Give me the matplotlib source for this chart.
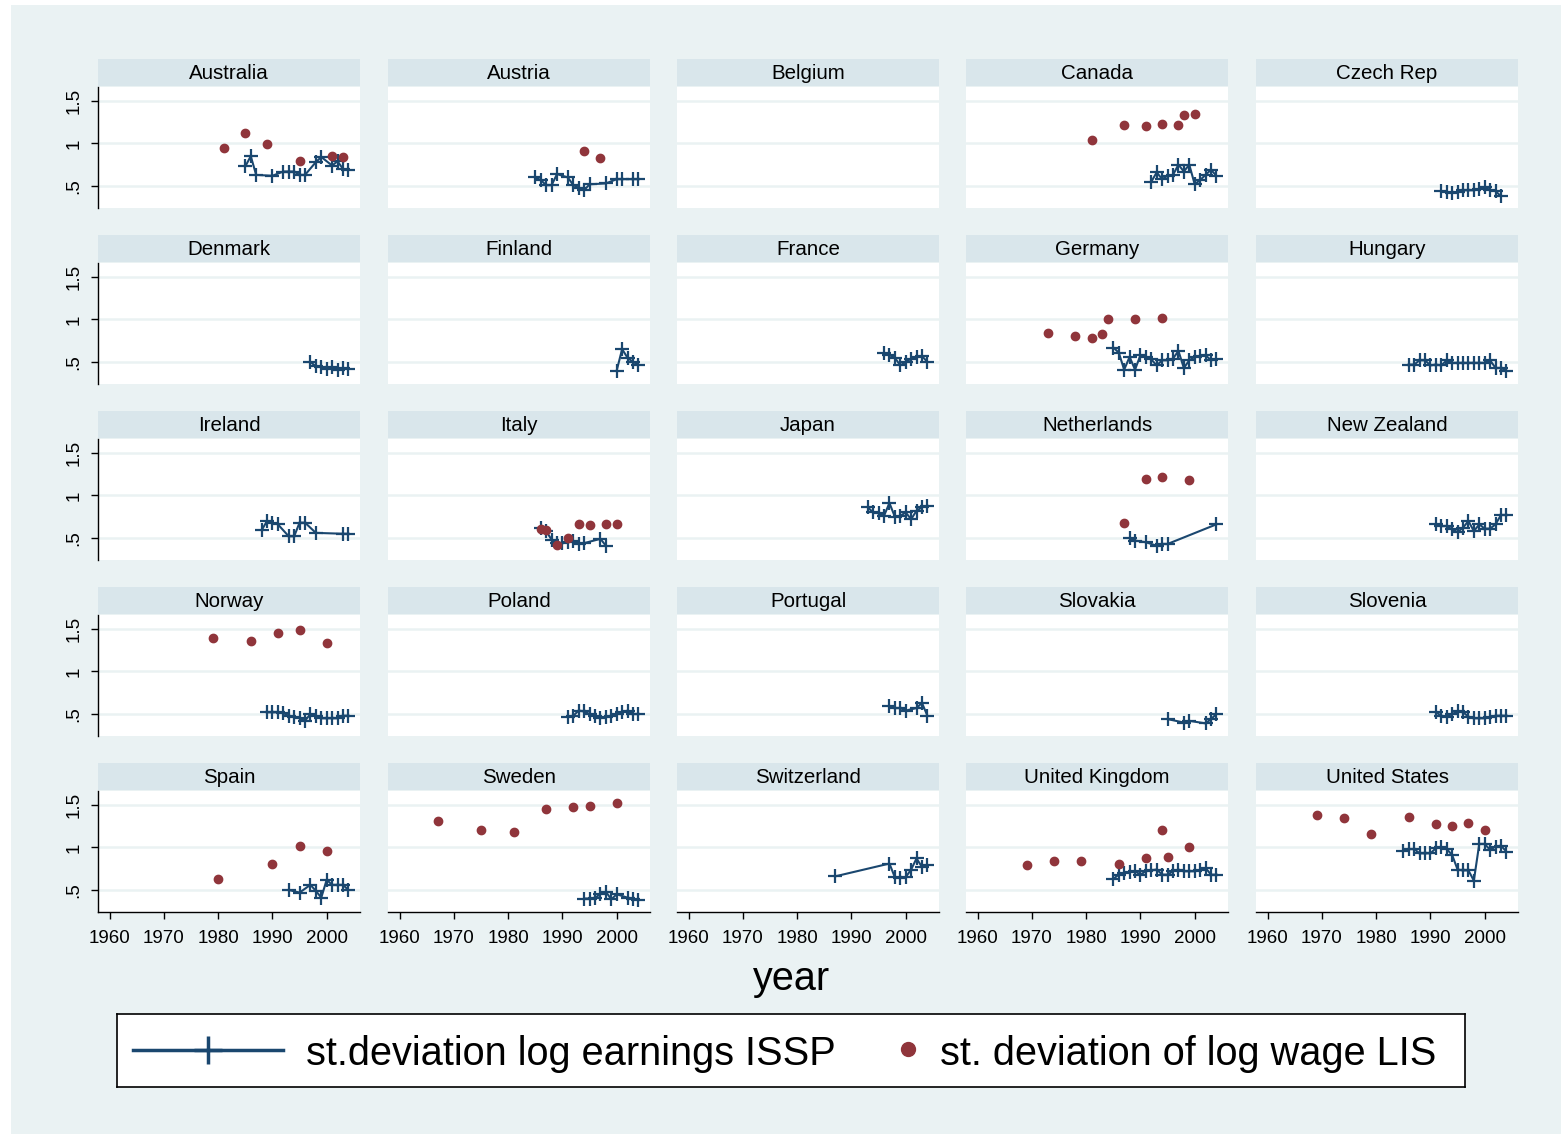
import matplotlib
matplotlib.use("Agg")
import matplotlib.pyplot as plt
from matplotlib.patches import Rectangle

plt.rcParams['font.family'] = ['Liberation Sans', 'DejaVu Sans']

# ---------------- data ----------------
COUNTRIES = ["Australia", "Austria", "Belgium", "Canada", "Czech Rep",
             "Denmark", "Finland", "France", "Germany", "Hungary",
             "Ireland", "Italy", "Japan", "Netherlands", "New Zealand",
             "Norway", "Poland", "Portugal", "Slovakia", "Slovenia",
             "Spain", "Sweden", "Switzerland", "United Kingdom", "United States"]

AUS_ISSP_YR = [1985, 1986, 1987, 1990, 1992, 1993, 1994, 1995, 1996, 1998, 1999, 2001, 2002, 2003, 2004]
AUS_ISSP = [0.73, 0.85, 0.63, 0.62, 0.67, 0.67, 0.67, 0.63, 0.63, 0.78, 0.84, 0.74, 0.79, 0.70, 0.69]
AUS_LIS_YR = [1981, 1985, 1989, 1995, 2001, 2003]
AUS_LIS = [0.94, 1.12, 0.99, 0.79, 0.85, 0.84]

AUT_ISSP_YR = [1985, 1986, 1987, 1988, 1989, 1991, 1992, 1993, 1994, 1995, 1998, 2000, 2001, 2003, 2004]
AUT_ISSP = [0.60, 0.57, 0.51, 0.51, 0.64, 0.60, 0.51, 0.48, 0.45, 0.52, 0.53, 0.58, 0.58, 0.58, 0.58]
AUT_LIS_YR = [1994, 1997]
AUT_LIS = [0.91, 0.83]

CAN_ISSP_YR = [1992, 1993, 1994, 1995, 1996, 1997, 1998, 1999, 2000, 2001, 2002, 2003, 2004]
CAN_ISSP = [0.55, 0.66, 0.58, 0.62, 0.63, 0.75, 0.67, 0.75, 0.52, 0.57, 0.63, 0.69, 0.62]
CAN_LIS_YR = [1981, 1987, 1991, 1994, 1997, 1998, 2000]
CAN_LIS = [1.04, 1.21, 1.20, 1.23, 1.22, 1.33, 1.34]

CZE_ISSP_YR = [1992, 1993, 1994, 1995, 1996, 1997, 1998, 1999, 2000, 2001, 2002, 2003]
CZE_ISSP = [0.44, 0.43, 0.42, 0.43, 0.45, 0.45, 0.45, 0.46, 0.49, 0.45, 0.44, 0.38]

DNK_ISSP_YR = [1997, 1998, 1999, 2000, 2001, 2002, 2003, 2004]
DNK_ISSP = [0.50, 0.45, 0.44, 0.42, 0.44, 0.41, 0.43, 0.42]

FIN_ISSP_YR = [2000, 2001, 2002, 2003, 2004]
FIN_ISSP = [0.40, 0.65, 0.55, 0.50, 0.47]

FRA_ISSP_YR = [1996, 1997, 1998, 1999, 2000, 2001, 2002, 2003, 2004]
FRA_ISSP = [0.60, 0.58, 0.55, 0.46, 0.50, 0.54, 0.56, 0.57, 0.50]

DEU_ISSP_YR = [1985, 1986, 1987, 1988, 1989, 1990, 1991, 1992, 1993, 1994, 1995, 1996, 1997,
               1998, 1999, 2000, 2001, 2002, 2003, 2004]
DEU_ISSP = [0.67, 0.61, 0.41, 0.56, 0.41, 0.58, 0.56, 0.53, 0.46, 0.52, 0.52, 0.54, 0.63,
            0.43, 0.52, 0.56, 0.57, 0.58, 0.52, 0.53]
DEU_LIS_YR = [1973, 1978, 1981, 1983, 1984, 1989, 1994]
DEU_LIS = [0.84, 0.80, 0.78, 0.83, 1.00, 1.00, 1.02]

HUN_ISSP_YR = [1986, 1987, 1988, 1989, 1990, 1991, 1992, 1993, 1994, 1995, 1996, 1997, 1998,
               1999, 2000, 2001, 2002, 2003, 2004]
HUN_ISSP = [0.47, 0.47, 0.52, 0.52, 0.46, 0.47, 0.46, 0.52, 0.49, 0.49, 0.49, 0.49, 0.49,
            0.49, 0.49, 0.52, 0.43, 0.43, 0.40]

IRL_ISSP_YR = [1988, 1989, 1990, 1991, 1993, 1994, 1995, 1996, 1998, 2003, 2004]
IRL_ISSP = [0.59, 0.70, 0.68, 0.66, 0.52, 0.52, 0.68, 0.68, 0.56, 0.55, 0.55]

ITA_ISSP_YR = [1986, 1987, 1988, 1989, 1990, 1991, 1992, 1993, 1994, 1997, 1998]
ITA_ISSP = [0.62, 0.58, 0.48, 0.44, 0.44, 0.45, 0.47, 0.43, 0.44, 0.49, 0.41]
ITA_LIS_YR = [1986, 1987, 1989, 1991, 1993, 1995, 1998, 2000]
ITA_LIS = [0.61, 0.59, 0.42, 0.50, 0.66, 0.65, 0.67, 0.66]

JPN_ISSP_YR = [1993, 1994, 1995, 1996, 1997, 1998, 1999, 2000, 2001, 2002, 2003, 2004]
JPN_ISSP = [0.86, 0.80, 0.79, 0.76, 0.91, 0.75, 0.76, 0.80, 0.72, 0.82, 0.86, 0.88]

NLD_ISSP_YR = [1988, 1989, 1991, 1993, 1994, 1995, 2004]
NLD_ISSP = [0.50, 0.47, 0.45, 0.41, 0.43, 0.43, 0.66]
NLD_LIS_YR = [1987, 1991, 1994, 1999]
NLD_LIS = [0.68, 1.19, 1.21, 1.18]

NZL_ISSP_YR = [1991, 1992, 1993, 1994, 1995, 1996, 1997, 1998, 1999, 2000, 2001, 2002, 2003, 2004]
NZL_ISSP = [0.66, 0.64, 0.64, 0.60, 0.57, 0.62, 0.70, 0.58, 0.66, 0.61, 0.61, 0.66, 0.77, 0.77]

NOR_ISSP_YR = [1989, 1990, 1991, 1992, 1993, 1994, 1995, 1996, 1997, 1998, 1999, 2000, 2001,
               2002, 2003, 2004]
NOR_ISSP = [0.52, 0.52, 0.52, 0.51, 0.48, 0.47, 0.45, 0.42, 0.50, 0.48, 0.45, 0.45, 0.45,
            0.45, 0.48, 0.48]
NOR_LIS_YR = [1979, 1986, 1991, 1995, 2000]
NOR_LIS = [1.39, 1.36, 1.45, 1.48, 1.33]

POL_ISSP_YR = [1991, 1992, 1993, 1994, 1995, 1996, 1997, 1998, 1999, 2000, 2001, 2002, 2003, 2004]
POL_ISSP = [0.47, 0.48, 0.54, 0.53, 0.50, 0.48, 0.45, 0.47, 0.48, 0.50, 0.52, 0.54, 0.50, 0.50]

PRT_ISSP_YR = [1997, 1998, 1999, 2000, 2002, 2003, 2004]
PRT_ISSP = [0.59, 0.57, 0.57, 0.54, 0.57, 0.63, 0.48]

SVK_ISSP_YR = [1995, 1998, 1999, 2002, 2003, 2004]
SVK_ISSP = [0.44, 0.40, 0.42, 0.39, 0.44, 0.50]

SVN_ISSP_YR = [1991, 1992, 1993, 1994, 1995, 1996, 1997, 1998, 1999, 2000, 2001, 2002, 2003, 2004]
SVN_ISSP = [0.52, 0.48, 0.47, 0.50, 0.53, 0.52, 0.47, 0.45, 0.45, 0.45, 0.46, 0.48, 0.48, 0.48]

ESP_ISSP_YR = [1993, 1995, 1997, 1998, 1999, 2000, 2001, 2002, 2003, 2004]
ESP_ISSP = [0.50, 0.47, 0.56, 0.49, 0.41, 0.62, 0.56, 0.56, 0.56, 0.50]
ESP_LIS_YR = [1980, 1990, 1995, 2000]
ESP_LIS = [0.63, 0.81, 1.02, 0.96]

SWE_ISSP_YR = [1994, 1995, 1996, 1997, 1998, 1999, 2000, 2002, 2003, 2004]
SWE_ISSP = [0.40, 0.40, 0.41, 0.45, 0.48, 0.39, 0.45, 0.41, 0.40, 0.38]
SWE_LIS_YR = [1967, 1975, 1981, 1987, 1992, 1995, 2000]
SWE_LIS = [1.31, 1.20, 1.18, 1.45, 1.47, 1.48, 1.52]

CHE_ISSP_YR = [1987, 1997, 1998, 1999, 2000, 2001, 2002, 2003, 2004]
CHE_ISSP = [0.66, 0.81, 0.65, 0.64, 0.65, 0.74, 0.87, 0.77, 0.79]

GBR_ISSP_YR = [1985, 1986, 1987, 1988, 1989, 1990, 1991, 1992, 1993, 1994, 1995, 1996, 1997,
               1998, 1999, 2000, 2001, 2002, 2003, 2004]
GBR_ISSP = [0.63, 0.68, 0.70, 0.71, 0.72, 0.68, 0.72, 0.73, 0.74, 0.68, 0.68, 0.72, 0.74,
            0.72, 0.72, 0.72, 0.73, 0.76, 0.68, 0.68]
GBR_LIS_YR = [1969, 1974, 1979, 1986, 1991, 1994, 1995, 1999]
GBR_LIS = [0.79, 0.84, 0.84, 0.80, 0.88, 1.20, 0.89, 1.01]

USA_ISSP_YR = [1985, 1986, 1987, 1988, 1989, 1990, 1991, 1992, 1993, 1994, 1995, 1996, 1997,
               1998, 1999, 2000, 2001, 2002, 2003, 2004]
USA_ISSP = [0.96, 0.98, 0.98, 0.93, 0.93, 0.93, 0.99, 1.00, 0.98, 0.91, 0.74, 0.73, 0.73,
            0.61, 1.04, 1.04, 0.97, 1.01, 1.02, 0.95]
USA_LIS_YR = [1969, 1974, 1979, 1986, 1991, 1994, 1997, 2000]
USA_LIS = [1.38, 1.34, 1.16, 1.36, 1.27, 1.25, 1.28, 1.20]

X_TICKS = [1960, 1970, 1980, 1990, 2000]
Y_TICKS = [0.5, 1, 1.5]
Y_TICK_LABELS = [".5", "1", "1.5"]
LABEL_ISSP = "st.deviation log earnings ISSP"
LABEL_LIS = "st. deviation of log wage LIS"
X_TITLE = "year"

ISSP = {
    "Australia": (AUS_ISSP_YR, AUS_ISSP), "Austria": (AUT_ISSP_YR, AUT_ISSP),
    "Canada": (CAN_ISSP_YR, CAN_ISSP), "Czech Rep": (CZE_ISSP_YR, CZE_ISSP),
    "Denmark": (DNK_ISSP_YR, DNK_ISSP), "Finland": (FIN_ISSP_YR, FIN_ISSP),
    "France": (FRA_ISSP_YR, FRA_ISSP), "Germany": (DEU_ISSP_YR, DEU_ISSP),
    "Hungary": (HUN_ISSP_YR, HUN_ISSP), "Ireland": (IRL_ISSP_YR, IRL_ISSP),
    "Italy": (ITA_ISSP_YR, ITA_ISSP), "Japan": (JPN_ISSP_YR, JPN_ISSP),
    "Netherlands": (NLD_ISSP_YR, NLD_ISSP), "New Zealand": (NZL_ISSP_YR, NZL_ISSP),
    "Norway": (NOR_ISSP_YR, NOR_ISSP), "Poland": (POL_ISSP_YR, POL_ISSP),
    "Portugal": (PRT_ISSP_YR, PRT_ISSP), "Slovakia": (SVK_ISSP_YR, SVK_ISSP),
    "Slovenia": (SVN_ISSP_YR, SVN_ISSP), "Spain": (ESP_ISSP_YR, ESP_ISSP),
    "Sweden": (SWE_ISSP_YR, SWE_ISSP), "Switzerland": (CHE_ISSP_YR, CHE_ISSP),
    "United Kingdom": (GBR_ISSP_YR, GBR_ISSP), "United States": (USA_ISSP_YR, USA_ISSP),
}
LIS = {
    "Australia": (AUS_LIS_YR, AUS_LIS), "Austria": (AUT_LIS_YR, AUT_LIS),
    "Canada": (CAN_LIS_YR, CAN_LIS), "Germany": (DEU_LIS_YR, DEU_LIS),
    "Italy": (ITA_LIS_YR, ITA_LIS), "Netherlands": (NLD_LIS_YR, NLD_LIS),
    "Norway": (NOR_LIS_YR, NOR_LIS), "Spain": (ESP_LIS_YR, ESP_LIS),
    "Sweden": (SWE_LIS_YR, SWE_LIS), "United Kingdom": (GBR_LIS_YR, GBR_LIS),
    "United States": (USA_LIS_YR, USA_LIS),
}

# ---------------- styling ----------------
NAVY = "#1a476f"
MAROON = "#90353b"
BG = "#eaf2f3"
STRIP = "#d9e6eb"
GRID = "#eaf2f3"

W, H = 1561, 1134
fig = plt.figure(figsize=(W / 100, H / 100), dpi=100, facecolor="white")
fig.patches.append(Rectangle((11 / W, 0), 1 - 11 / W, 1 - 5 / H, transform=fig.transFigure,
                             facecolor=BG, edgecolor="none", zorder=-10))

col_left = [98, 388, 677, 966, 1256]
pw, ph = 262, 121
row_top0, row_step = 87, 176

for i, c in enumerate(COUNTRIES):
    r, k = divmod(i, 5)
    L = col_left[k]
    top = row_top0 + row_step * r
    ax = fig.add_axes([L / W, 1 - (top + ph) / H, pw / W, ph / H])
    ax.set_facecolor("white")
    ax.set_xlim(1957.84, 2006.14)
    ax.set_ylim(0.242, 1.661)
    for s in ax.spines.values():
        s.set_visible(False)
    ax.set_yticks(Y_TICKS)
    ax.grid(axis="y", color=GRID, linewidth=1.8, zorder=0)
    ax.set_axisbelow(True)

    if k == 0:
        ax.spines["left"].set_visible(True)
        ax.spines["left"].set_color("black")
        ax.spines["left"].set_linewidth(1.0)
        ax.set_yticklabels(Y_TICK_LABELS)
        ax.tick_params(axis="y", length=5, width=1, direction="out", labelsize=13.5, pad=6)
        for t in ax.get_yticklabels():
            t.set_rotation(90)
            t.set_va("center")
    else:
        ax.set_yticklabels([])
        ax.tick_params(axis="y", length=0)

    if r == 4:
        ax.spines["bottom"].set_visible(True)
        ax.spines["bottom"].set_color("black")
        ax.spines["bottom"].set_linewidth(1.0)
        ax.set_xticks(X_TICKS)
        ax.tick_params(axis="x", length=5, width=1, direction="out", labelsize=13.5, pad=8)
    else:
        ax.set_xticks([])

    if c in ISSP:
        yrs, vals = ISSP[c]
        ax.plot(yrs, vals, color=NAVY, lw=1.5, marker="+", ms=10, mew=1.6, zorder=3,
                clip_on=False)
    if c in LIS:
        yrs, vals = LIS[c]
        ax.plot(yrs, vals, linestyle="none", marker="o", color=MAROON, ms=6, zorder=4,
                clip_on=False)

    # strip header
    sax = fig.add_axes([L / W, 1 - (top - 1) / H, pw / W, 27 / H])
    sax.set_facecolor(STRIP)
    sax.set_xticks([])
    sax.set_yticks([])
    for s in sax.spines.values():
        s.set_visible(False)
    sax.text(0.5, 0.45, c, ha="center", va="center", fontsize=14.8, transform=sax.transAxes)

fig.text(792 / W, 1 - 979 / H, X_TITLE, ha="center", va="center", fontsize=28.5)

# legend box
lx0, lx1, ly0, ly1 = 117, 1465, 1014, 1087
lax = fig.add_axes([lx0 / W, 1 - ly1 / H, (lx1 - lx0) / W, (ly1 - ly0) / H])
lax.set_xlim(lx0, lx1)
lax.set_ylim(ly1, ly0)
lax.set_facecolor("white")
lax.set_xticks([])
lax.set_yticks([])
for s in lax.spines.values():
    s.set_color("black")
    s.set_linewidth(1.2)
lax.plot([133, 283], [1050, 1050], color=NAVY, lw=2.5)
lax.plot([208], [1050], marker="+", ms=20, mew=2.5, color=NAVY)
lax.plot([908], [1049], marker="o", color=MAROON, ms=10, linestyle="none")
lax.text(306, 1054, LABEL_ISSP, fontsize=28.6, va="center", ha="left")
lax.text(940, 1054, LABEL_LIS, fontsize=28.6, va="center", ha="left")

fig.savefig("out.png", dpi=100, facecolor="white")
